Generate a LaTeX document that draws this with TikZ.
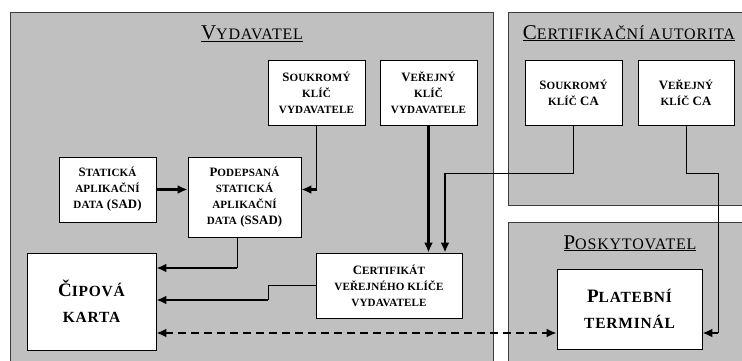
\documentclass[tikz,border=0pt]{standalone}
\usepackage{fontspec}
\setmainfont{Liberation Serif}
\newfontfamily\scfont{Liberation Serif}[LetterSpace=5]
\newfontfamily\bxfont{Liberation Serif}[LetterSpace=1]
\usetikzlibrary{arrows.meta}
\definecolor{panel}{RGB}{192,192,192}
\definecolor{pborder}{RGB}{60,60,60}
\def\smsz{10.5}
\newcommand\sm[1]{{\fontsize{\smsz}{\smsz}\selectfont\MakeUppercase{#1}}}
\begin{document}
\begin{tikzpicture}[x=1pt,y=-1pt,
  pnl/.style={fill=panel,draw=pborder,line width=0.9pt},
  box/.style={draw=black,line width=0.9pt,fill=white,align=center,inner sep=0pt,
    font=\bxfont\bfseries\fontsize{12.8}{16}\selectfont\def\smsz{11.1}},
  bigbox/.style={box,font=\scfont\bfseries\fontsize{19}{26}\selectfont\def\smsz{15.5}},
  ttl/.style={anchor=base,inner sep=0pt,font=\scfont\fontsize{21}{24}\selectfont\def\smsz{16}},
  thinline/.style={line width=0.9pt},
  thk/.style={line width=2.2pt,-{Latex[length=10pt,width=9pt]}},
  dsh/.style={line width=2.2pt,dash pattern=on 8pt off 5pt,
    {Latex[length=10pt,width=9pt]}-{Latex[length=10pt,width=9pt]}}]
\useasboundingbox (0,0) rectangle (742,360);
\begin{scope}
  \clip (0,0) rectangle (742,360);
  \path[pnl] (10,12) rectangle (493,380);
  \path[pnl] (508,12) rectangle (760,205);
  \path[pnl] (508,222) rectangle (760,380);
\end{scope}
% titles
\node[ttl] (tv) at (252,39) {\underline{V\sm{ydavatel}}};
\node[ttl] (tc) at (629,39) {\underline{C\sm{ertifikační autorita}}};
\node[ttl] (tp) at (630,249) {\underline{P\sm{oskytovatel}}};
% boxes
\node[box,minimum width=97pt,minimum height=65pt] (skv) at (316.5,92.5) {S\sm{oukromý}\\\sm{klíč}\\\sm{vydavatele}};
\node[box,minimum width=97pt,minimum height=65pt] (vkv) at (428.5,92.5) {V\sm{eřejný}\\\sm{klíč}\\\sm{vydavatele}};
\node[box,minimum width=97pt,minimum height=65pt] (sca) at (573.5,92.5) {S\sm{oukromý}\\\sm{klíč} CA};
\node[box,minimum width=96pt,minimum height=65pt] (vca) at (686,92.5) {V\sm{eřejný}\\\sm{klíč} CA};
\node[box,minimum width=97pt,minimum height=65pt] (sad) at (107.5,189.5) {S\sm{tatická}\\\sm{aplikační}\\\sm{data} (SAD)};
\node[box,minimum width=113pt,minimum height=80pt] (ssad) at (244.5,197) {P\sm{odepsaná}\\\sm{statická}\\\sm{aplikační}\\\sm{data} (SSAD)};
\node[bigbox,minimum width=129pt,minimum height=97pt] (karta) at (91.5,301.5) {Č\sm{ipová}\\\sm{karta}};
\node[box,minimum width=146pt,minimum height=65pt] (cert) at (389,285.5) {C\sm{ertifikát}\\\sm{veřejného klíče}\\\sm{vydavatele}};
\node[bigbox,minimum width=145pt,minimum height=80pt] (term) at (629.5,309) {P\sm{latební}\\\sm{terminál}};
% connectors
\draw[thk] (sad.east) -- (ssad.west |- sad.east);
\coordinate (k1) at (skv.south |- sad.east);
\draw[thinline] (skv.south) -- (k1);
\draw[thk] (k1) -- (ssad.east |- k1);
\draw[thk] (vkv.south) -- (vkv.south |- cert.north);
\coordinate (k2) at (573.5,173);
\coordinate (k3) at (445,173);
\draw[thinline] (sca.south) -- (k2) -- (k3);
\draw[thk] (k3) -- (k3 |- cert.north);
\coordinate (k4) at (686,173);
\coordinate (k5) at (718,173);
\coordinate (k6) at (718,333);
\draw[thinline] (vca.south) -- (k4) -- (k5) -- (k6);
\draw[thk] (k6) -- (term.east |- k6);
\coordinate (k7a) at ([xshift=-7.5pt]ssad.south);
\coordinate (k7) at (237,268);
\draw[thinline] (k7a) -- (k7);
\draw[thk] (k7) -- (karta.east |- k7);
\coordinate (k8) at (268,285.5);
\coordinate (k9) at (268,300);
\draw[thinline] (cert.west) -- (k8) -- (k9);
\draw[thk] (k9) -- (karta.east |- k9);
\coordinate (d) at (0,333);
\draw[dsh] (karta.east |- d) -- (term.west |- d);
\end{tikzpicture}
\end{document}
